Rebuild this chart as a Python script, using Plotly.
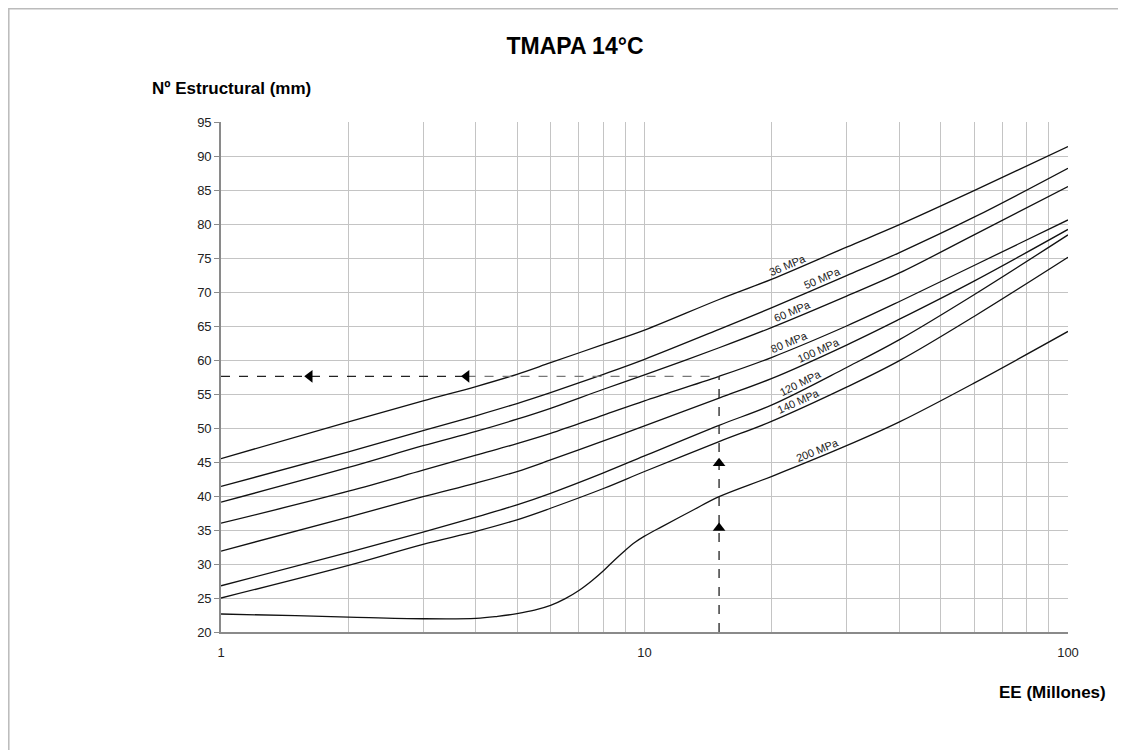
import numpy as np
import plotly.graph_objects as go

# ---------------- data ----------------
EE = [1, 2, 3, 4, 5, 6, 8, 10, 15, 20, 30, 40, 60, 100]
SN_36 = [45.5, 50.9, 54.0, 56.1, 57.9, 59.6, 62.3, 64.4, 68.9, 71.9, 76.6, 79.9, 84.9, 91.4]
SN_50 = [41.4, 46.5, 49.6, 51.8, 53.6, 55.2, 57.9, 60.1, 64.5, 67.7, 72.4, 75.8, 81.0, 88.2]
SN_60 = [39.1, 44.2, 47.4, 49.5, 51.3, 52.9, 55.7, 57.8, 61.8, 64.8, 69.4, 72.8, 78.4, 85.5]
SN_80 = [36.0, 40.7, 43.8, 46.0, 47.7, 49.2, 51.9, 54.0, 57.6, 60.4, 65.0, 68.6, 73.9, 80.6]
SN_100 = [31.9, 36.9, 39.9, 41.9, 43.6, 45.3, 48.1, 50.3, 54.4, 57.3, 62.2, 66.0, 71.6, 79.2]
SN_120 = [26.8, 31.7, 34.7, 36.9, 38.7, 40.4, 43.4, 45.9, 50.4, 53.4, 58.9, 63.0, 69.6, 78.4]
SN_140 = [25.0, 29.8, 32.9, 34.8, 36.5, 38.2, 41.1, 43.6, 48.0, 51.0, 56.0, 59.9, 66.4, 75.1]

EE_200 = [1, 1.5, 2, 3, 4, 4.5, 5, 5.5, 6, 6.5, 7, 7.5, 8, 8.5, 9, 9.5, 10, 11, 13, 15, 20, 30, 40, 60, 100]
SN_200 = [22.65, 22.4, 22.2, 21.95, 22.0, 22.3, 22.7, 23.2, 23.9, 24.9, 26.1, 27.5, 29.0, 30.6, 32.0, 33.2,
          34.1, 35.5, 37.9, 39.9, 42.9, 47.4, 50.9, 56.6, 64.2]

CURVE_NAMES = ["36 MPa", "50 MPa", "60 MPa", "80 MPa", "100 MPa", "120 MPa", "140 MPa", "200 MPa"]
LABEL_EE = [22.1, 26.7, 22.7, 22.3, 26.2, 23.7, 23.5, 26.0]

# design example (dashed reading lines)
EE_DESIGN = 15
SN_DESIGN = 57.6
ARROW_LEFT_EE = [1.62, 3.8]
ARROW_UP_SN = [35.3, 44.8]

Y_TICKS = list(range(20, 96, 5))
X_GRID = [1, 2, 3, 4, 5, 6, 7, 8, 9, 10, 20, 30, 40, 50, 60, 70, 80, 90, 100]
X_TICKTEXT = {1: "1", 10: "10", 100: "100"}

# ---------------- figure ----------------
OFF = 8  # page body margin
W, H = 1126, 750
PX0, PX1, PY0, PY1 = 221, 1068, 122, 632  # plot area in page pixels
L, T = PX0 - OFF, PY0 - OFF
R, B = W - (PX1 - OFF), H - (PY1 - OFF)
PW, PH = PX1 - PX0, PY1 - PY0


def px(xp):
    return (xp - PX0) / PW


def py(yp):
    return (PY1 - yp) / PH


fig = go.Figure()

curves = [(EE, SN_36), (EE, SN_50), (EE, SN_60), (EE, SN_80), (EE, SN_100),
          (EE, SN_120), (EE, SN_140), (EE_200, SN_200)]
for name, (xs, ys) in zip(CURVE_NAMES, curves):
    fig.add_trace(go.Scatter(x=xs, y=ys, mode="lines", name=name,
                             line=dict(color="#111111", width=1.3, shape="spline", smoothing=1.0),
                             hoverinfo="skip", showlegend=False))

# dashed reading lines
fig.add_trace(go.Scatter(x=[1, ARROW_LEFT_EE[1]], y=[SN_DESIGN, SN_DESIGN], mode="lines",
                         line=dict(color="#222222", width=1.3, dash="dash"), showlegend=False))
fig.add_trace(go.Scatter(x=[ARROW_LEFT_EE[1], EE_DESIGN], y=[SN_DESIGN, SN_DESIGN], mode="lines",
                         line=dict(color="#777777", width=1.3, dash="dash"), showlegend=False))
fig.add_trace(go.Scatter(x=[EE_DESIGN, EE_DESIGN], y=[20, SN_DESIGN], mode="lines",
                         line=dict(color="#222222", width=1.3, dash="dash"), showlegend=False))
# arrow heads
fig.add_trace(go.Scatter(x=ARROW_LEFT_EE, y=[SN_DESIGN] * len(ARROW_LEFT_EE), mode="markers",
                         marker=dict(symbol="triangle-left", size=11, color="#000000"), showlegend=False))
fig.add_trace(go.Scatter(x=[EE_DESIGN] * len(ARROW_UP_SN), y=ARROW_UP_SN, mode="markers",
                         marker=dict(symbol="triangle-up", size=11, color="#000000"), showlegend=False))

# curve labels along the lines
px_per_dec = PW / 2.0
px_per_unit = PH / 75.0
for name, (xs, ys), le in zip(CURVE_NAMES, curves, LABEL_EE):
    lx = np.log10(np.array(xs, dtype=float))
    l0 = np.log10(le)
    yv = float(np.interp(l0, lx, ys))
    y1 = float(np.interp(l0 + 0.05, lx, ys))
    y0 = float(np.interp(l0 - 0.05, lx, ys))
    slope = (y1 - y0) / 0.1
    ang = np.degrees(np.arctan(slope * px_per_unit / px_per_dec))
    d = 7
    fig.add_annotation(x=l0, y=yv, xref="x", yref="y", text=name, showarrow=False,
                       textangle=-ang, font=dict(family="Liberation Sans, Arial", size=11, color="#222"),
                       xshift=-d * np.sin(np.radians(ang)), yshift=d * np.cos(np.radians(ang)))

# axis titles
fig.add_annotation(x=px(150), y=py(88), xref="paper", yref="paper",
                   text="<b>Nº Estructural (mm)</b>", showarrow=False, xanchor="left", yanchor="middle",
                   font=dict(family="Liberation Sans, Arial", size=17, color="#000"))
fig.add_annotation(x=px(1108), y=py(692), xref="paper", yref="paper",
                   text="<b>EE (Millones)</b>", showarrow=False, xanchor="right", yanchor="middle",
                   font=dict(family="Liberation Sans, Arial", size=17, color="#000"))

# outer frame
fig.add_shape(type="rect", xref="paper", yref="paper",
              x0=px(OFF + 0.8), x1=px(1121), y0=py(770), y1=py(OFF + 0.8),
              line=dict(color="#bbbbbb", width=1.5), fillcolor="rgba(0,0,0,0)", layer="below")

fig.update_layout(
    width=W, height=H,
    margin=dict(l=L, r=R, t=T, b=B),
    paper_bgcolor="white", plot_bgcolor="white",
    title=dict(text="<b>TMAPA 14°C</b>", x=(575 - OFF) / W, xanchor="center", y=1 - (46 - OFF) / H,
               yanchor="middle",
               font=dict(family="Liberation Sans Narrow, Liberation Sans, Arial", size=23, color="#000")),
    xaxis=dict(type="log", range=[0, 2], tickvals=X_GRID,
               ticktext=[X_TICKTEXT.get(v, "") for v in X_GRID],
               showgrid=True, gridcolor="#c4c4c4", gridwidth=1.3,
               showline=True, linecolor="#8a8a8a", linewidth=1.6, mirror=False,
               ticks="", zeroline=False, ticklabelstandoff=8,
               tickfont=dict(family="Liberation Sans, Arial", size=13, color="#222")),
    yaxis=dict(range=[20, 95], tickvals=Y_TICKS,
               showgrid=True, gridcolor="#c4c4c4", gridwidth=1.3,
               showline=True, linecolor="#8a8a8a", linewidth=1.6,
               ticks="outside", ticklen=5, tickcolor="#8a8a8a", zeroline=False,
               tickfont=dict(family="Liberation Sans, Arial", size=13, color="#222")),
    showlegend=False,
)

fig.write_html("out.html")
